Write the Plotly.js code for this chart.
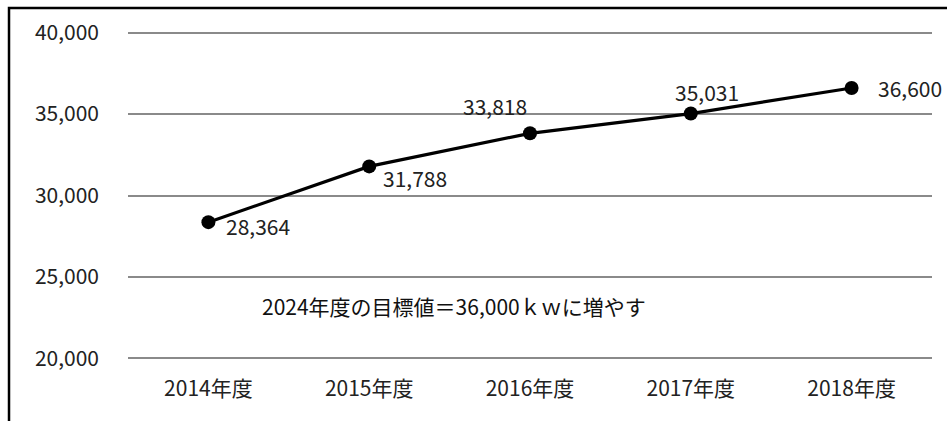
<!DOCTYPE html>
<html><head><meta charset="utf-8">
<script src="https://cdn.plot.ly/plotly-3.0.1.min.js"></script>
<style>body{margin:0;background:#fff}#c{width:947px;height:421px}</style>
</head><body><div id="c"></div>
<script>
const categories = ["2014年度","2015年度","2016年度","2017年度","2018年度"];
const values = [28364, 31788, 33818, 35031, 36600];
const yTicks = [20000, 25000, 30000, 35000, 40000];
const note = "2024年度の目標値＝36,000ｋｗに増やす";

const FONT = "Noto Sans CJK JP, Noto Sans, sans-serif";
// label offsets (style only)
const labelPos = [
  {xanchor:"left", xshift:16, yshift:-4},
  {xanchor:"left", xshift:12, yshift:-12},
  {xanchor:"right", xshift:-1, yshift:27},
  {xanchor:"center", xshift:16, yshift:22},
  {xanchor:"left", xshift:24, yshift:0}
];
const fmt = v => v.toLocaleString("en-US");

const annotations = values.map((v,i)=>({
  x: categories[i], y: v, xref:"x", yref:"y", text: fmt(v), showarrow:false,
  xanchor: labelPos[i].xanchor, yanchor:"middle",
  xshift: labelPos[i].xshift, yshift: labelPos[i].yshift,
  font:{family:FONT, size:21, color:"#222"}
}));
annotations.push({
  x: 0.405, y: 0.165, xref:"paper", yref:"paper", text: note, showarrow:false,
  xanchor:"center", yanchor:"middle",
  font:{family:FONT, size:21, color:"#111"}
});

const trace = {
  x: categories, y: values, type:"scatter", mode:"lines+markers",
  line:{color:"#000", width:3.2}, marker:{color:"#000", size:14},
  hoverinfo:"skip"
};

const layout = {
  width:947, height:421,
  margin:{l:128, r:15, t:31, b:61},
  paper_bgcolor:"#fff", plot_bgcolor:"#fff",
  showlegend:false,
  xaxis:{type:"category", range:[-0.5,4.5], showgrid:false, zeroline:false, showline:false, ticks:"",
         tickfont:{family:FONT, size:21, color:"#222"}, ticklabelstandoff:14},
  yaxis:{range:[19900,40100], tickvals:yTicks, ticktext:yTicks.map(fmt),
         showgrid:true, gridcolor:"#8a8a8a", gridwidth:2, zeroline:false, showline:false,
         ticks:"", ticklabelstandoff:28,
         tickfont:{family:FONT, size:21, color:"#222"}},
  annotations: annotations,
  shapes:[{type:"rect", xref:"paper", yref:"paper", x0:-0.148, x1:1.05, y0:-0.3, y1:1.07,
           line:{color:"#000", width:2.5}, fillcolor:"rgba(0,0,0,0)", layer:"above"}]
};
Plotly.newPlot("c", [trace], layout, {staticPlot:true});
</script></body></html>
